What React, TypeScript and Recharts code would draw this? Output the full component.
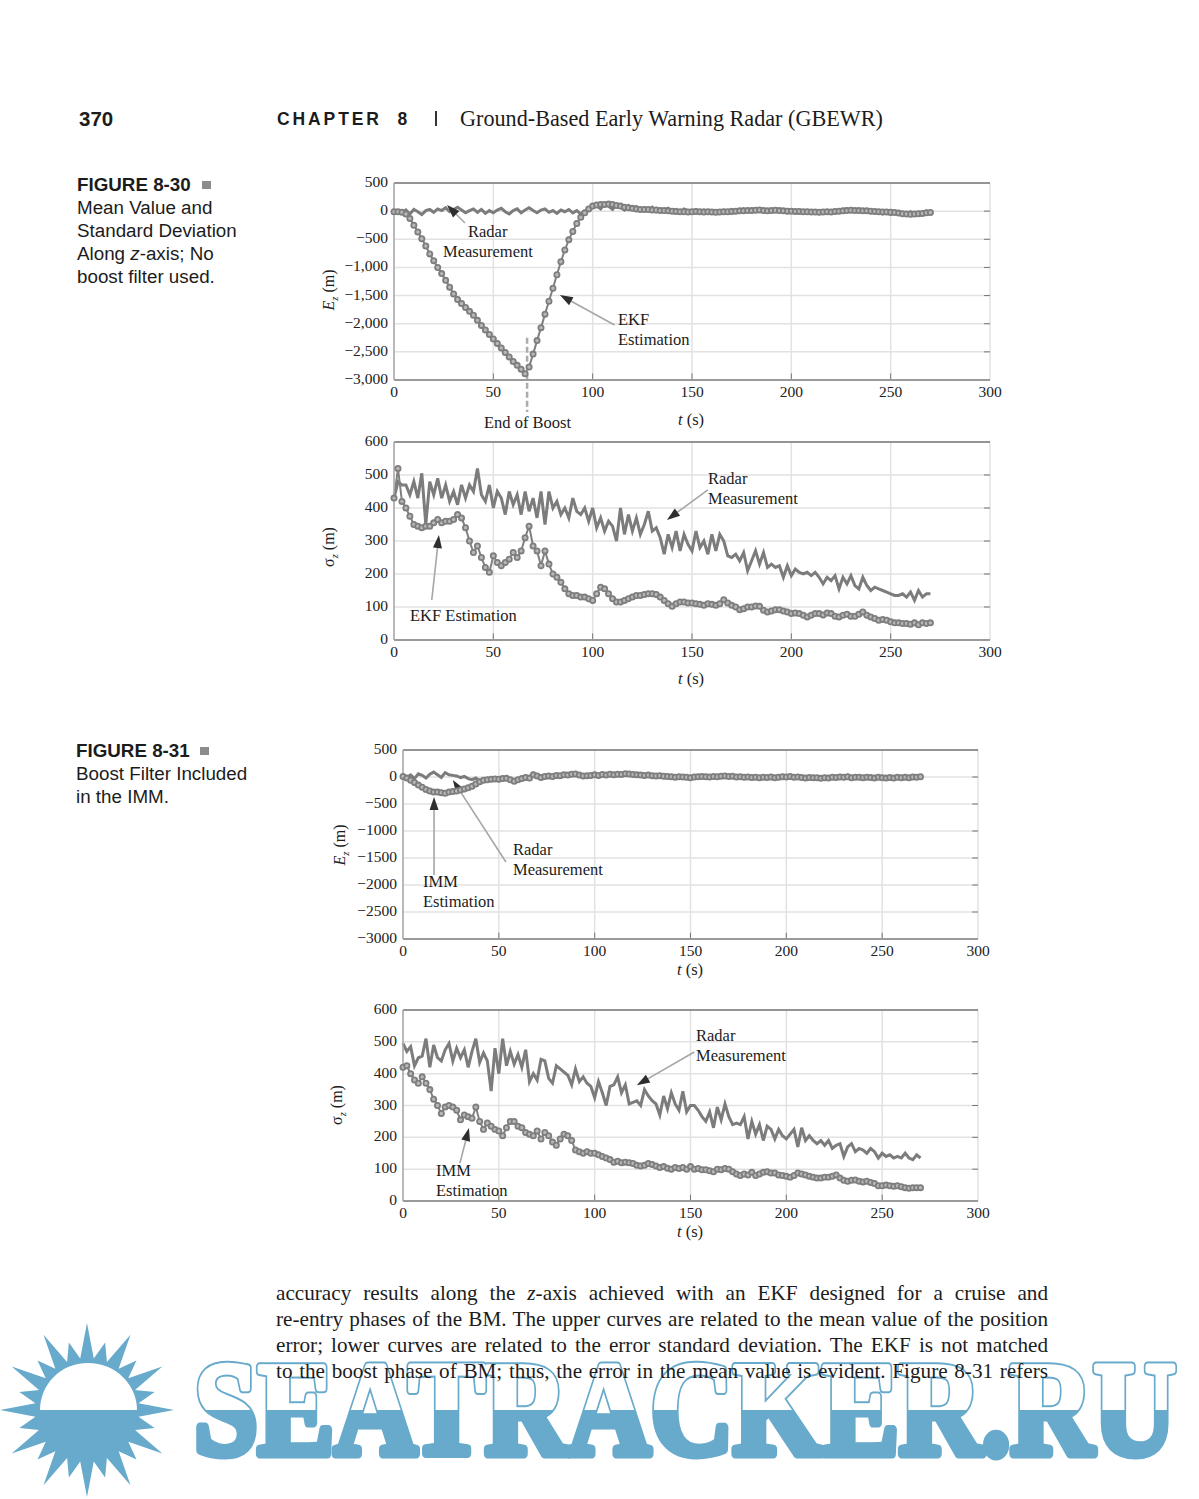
import React from "react";
import { LineChart, Line, XAxis, YAxis, CartesianGrid, ReferenceLine } from "recharts";

const serif = "'Liberation Serif', serif";
const sans = "'Liberation Sans', sans-serif";

// samples every 2 s, 0 to 270
const times = [
  0, 2, 4, 6, 8, 10, 12, 14, 16, 18, 20, 22, 24, 26, 28, 30, 32, 34, 36, 38, 40, 42, 44, 46, 48, 50, 52, 54, 56, 58,
  60, 62, 64, 66, 68, 70, 72, 74, 76, 78, 80, 82, 84, 86, 88, 90, 92, 94, 96, 98, 100, 102, 104, 106, 108, 110, 112,
  114, 116, 118, 120, 122, 124, 126, 128, 130, 132, 134, 136, 138, 140, 142, 144, 146, 148, 150, 152, 154, 156, 158,
  160, 162, 164, 166, 168, 170, 172, 174, 176, 178, 180, 182, 184, 186, 188, 190, 192, 194, 196, 198, 200, 202, 204,
  206, 208, 210, 212, 214, 216, 218, 220, 222, 224, 226, 228, 230, 232, 234, 236, 238, 240, 242, 244, 246, 248, 250,
  252, 254, 256, 258, 260, 262, 264, 266, 268, 270,
];
const xTicks = [0, 50, 100, 150, 200, 250, 300];
const ezTicks = [500, 0, -500, -1000, -1500, -2000, -2500, -3000];
const sigmaTicks = [600, 500, 400, 300, 200, 100, 0];

const radarEz30 = [
  -20, 10, -30, 20, -50, 30, -10, -60, 10, 30, -20, 40, 10, 60, -10, 30, 70, 20, -30, 10,
  40, -20, 30, -40, 10, -30, 20, 50, -10, -50, 10, 40, -30, 20, 60, 10, -30, 20, 40, -20,
  10, -40, 20, -10, 30, -30, 10, -50, -10, 20, 60, 100, 40, 130, 90, 30, 120, 70, 20, 100,
  40, 80, 10, 60, 30, 70, -10, 40, 20, 50, 0, 30, -20, 40, 10, -10, 30, -20, 20, -10,
  -20, 10, -30, 20, 0, 30, -10, 20, 40, 0, 30, 10, 40, -10, 30, 0, 40, 10, -20, 30,
  10, -20, 20, 0, -30, 10, -10, -40, 0, -30, 10, 20, -10, 30, 40, 0, 30, -10, 20, 0,
  -30, 10, -20, -50, -30, -60, -20, -50, -30, -60, -10, -40, -20, -30, 0, -10,
];
const ekfEz30 = [
  -10, -10, -20, -50, -130, -250, -370, -490, -620, -760, -880, -1000, -1110, -1230, -1350, -1470, -1570, -1640, -1710, -1780,
  -1850, -1940, -2030, -2110, -2190, -2270, -2350, -2430, -2510, -2590, -2670, -2740, -2810, -2890, -2770, -2540, -2300, -2070, -1830, -1600,
  -1370, -1130, -900, -690, -510, -360, -220, -110, -30, 40, 90, 110, 120, 120, 125, 120, 100, 90, 70, 60,
  50, 40, 30, 30, 30, 20, 20, 10, 10, 5, 0, -5, -10, -10, -15, -10, -5, -10, -15, -10,
  -15, -20, -15, -10, -10, -5, 0, 5, 5, 10, 10, 15, 20, 10, 5, 10, 15, 10, 5, 0,
  0, -5, -5, -10, -10, -15, -15, -20, -15, -10, -15, -5, 0, 5, 10, 15, 10, 10, 5, 5,
  0, -5, -10, -15, -15, -20, -25, -35, -45, -50, -55, -50, -45, -40, -30, -25,
];
const radarSigma30 = [
  430, 480, 470, 470, 440, 480, 430, 505, 350, 480, 440, 490, 430, 470, 420, 450, 410, 470, 430, 470,
  450, 520, 440, 420, 470, 400, 450, 430, 380, 450, 410, 440, 380, 450, 390, 430, 370, 450, 350, 450,
  400, 420, 380, 400, 370, 430, 390, 380, 400, 360, 400, 340, 370, 330, 360, 345, 300, 400, 320, 380,
  330, 370, 320, 350, 390, 330, 340, 310, 260, 320, 280, 330, 270, 320, 290, 270, 330, 280, 300, 260,
  320, 270, 320, 300, 255, 250, 260, 240, 265, 210, 240, 270, 230, 265, 220, 230, 220, 225, 190, 225,
  195, 215, 205, 200, 205, 195, 205, 190, 170, 190, 180, 195, 155, 190, 170, 195, 165, 155, 190, 165,
  150, 160, 155, 150, 145, 140, 135, 135, 140, 130, 145, 120, 150, 130, 140, 140,
];
const ekfSigma30 = [
  430, 520, 420, 400, 375, 350, 345, 340, 345, 345, 355, 365, 355, 360, 360, 365, 380, 370, 340, 300,
  265, 285, 250, 220, 205, 255, 235, 225, 235, 245, 265, 250, 270, 310, 345, 285, 270, 225, 270, 230,
  200, 190, 175, 155, 140, 135, 135, 130, 130, 125, 120, 140, 160, 155, 140, 125, 115, 115, 120, 125,
  130, 135, 135, 138, 140, 140, 138, 130, 120, 110, 102, 110, 115, 115, 112, 112, 110, 108, 105, 110,
  108, 105, 110, 122, 112, 105, 100, 92, 95, 100, 100, 103, 102, 90, 85, 88, 92, 92, 88, 85,
  80, 82, 80, 75, 70, 75, 80, 80, 76, 82, 80, 72, 70, 75, 78, 72, 72, 78, 85, 75,
  70, 65, 60, 62, 60, 55, 52, 52, 50, 50, 48, 52, 46, 52, 50, 52,
];
const radarEz31 = [
  20, -10, 40, -30, 60, 30, -20, 50, 90, 40, -10, 80, 40, 30, 20, -10, 10, -30, -50, -20,
  -70, -50, -30, -50, -20, -40, -30, -10, -60, -70, -40, -20, 20, -40, 70, 40, -20, 10, 30, 0,
  40, 20, 50, 30, 60, 70, 40, -10, 30, 20, 50, 10, 40, 30, 60, 20, 50, 30, 70, 60,
  40, 50, 30, 20, 40, 30, 10, 30, 20, -10, 10, -20, 20, 0, -10, -30, 10, 0, 20, 10,
  -10, 20, -5, 15, 30, 5, 20, -15, 10, -10, 5, -20, -5, -30, 0, -15, 10, -25, 0, 15,
  -5, 20, -10, 5, -20, -30, -5, -25, -10, -35, -15, -30, 0, -20, 10, -10, 15, -25, -10, -5,
  -20, 5, -15, -25, 0, -20, -30, -10, -25, 0, -15, 5, -20, 10, -10, 15,
];
const immEz31 = [
  10, -20, -60, -100, -150, -190, -230, -260, -280, -280, -290, -300, -280, -270, -260, -240, -220, -200, -170, -130,
  -90, -60, -50, -40, -35, -40, -30, -25, -50, -80, -50, -30, -10, -20, 40, 20, -10, 10, 20, 10,
  30, 25, 40, 35, 50, 55, 35, 20, 25, 30, 40, 30, 45, 35, 50, 40, 50, 45, 60, 55,
  45, 40, 35, 30, 35, 25, 20, 25, 15, 10, 5, -5, 5, 0, -5, -15, 0, 5, 10, 5,
  0, 10, 5, 15, 20, 10, 15, 0, 5, -5, 0, -10, -5, -15, -5, -10, 0, -15, -5, 5,
  0, 10, -5, 0, -10, -20, -10, -15, -15, -25, -15, -20, -5, -10, 0, -5, 5, -15, -5, -5,
  -15, -5, -10, -20, -5, -15, -20, -10, -20, -5, -15, -5, -15, 0, -5, 5,
];
const radarSigma31 = [
  495, 470, 485, 425, 450, 455, 510, 420, 490, 450, 440, 475, 495, 440, 480, 450, 475, 420, 470, 510,
  435, 465, 440, 345, 480, 400, 510, 425, 470, 430, 460, 420, 475, 375, 400, 380, 445, 440, 385, 370,
  425, 415, 405, 395, 365, 415, 375, 390, 370, 360, 325, 375, 340, 300, 360, 365, 390, 340, 365, 305,
  310, 315, 300, 350, 330, 315, 305, 270, 330, 290, 340, 305, 285, 345, 280, 300, 300, 285, 265, 250,
  280, 230, 295, 255, 305, 265, 240, 245, 240, 265, 195, 250, 210, 240, 190, 235, 225, 195, 225, 205,
  195, 210, 225, 170, 230, 190, 205, 190, 180, 190, 175, 190, 165, 175, 180, 140, 170, 180, 155, 165,
  160, 150, 165, 155, 135, 150, 140, 145, 135, 140, 135, 150, 135, 130, 145, 135,
];
const immSigma31 = [
  420, 425, 400, 380, 370, 390, 370, 350, 320, 300, 275, 295, 300, 295, 285, 255, 270, 265, 260, 295,
  250, 225, 245, 235, 225, 220, 205, 230, 250, 250, 235, 230, 215, 210, 205, 220, 195, 215, 205, 185,
  175, 195, 210, 205, 190, 160, 155, 150, 155, 150, 150, 145, 140, 135, 130, 122, 125, 120, 122, 120,
  118, 112, 110, 112, 118, 115, 110, 105, 108, 103, 100, 105, 102, 105, 100, 108, 100, 102, 98, 98,
  95, 92, 100, 98, 102, 100, 92, 85, 80, 85, 82, 90, 80, 85, 90, 92, 88, 88, 82, 80,
  78, 75, 80, 88, 85, 82, 78, 75, 72, 72, 75, 75, 78, 82, 72, 65, 62, 65, 66, 62,
  60, 62, 58, 55, 48, 48, 50, 48, 46, 48, 45, 42, 40, 42, 42, 42,
];

type Arrow = { from: [number, number]; to: [number, number] };

// arrows in data units: tail to head
const arrowsEz30: Arrow[] = [
  { from: [35.7, -211], to: [26.7, 109] },
  { from: [111, -2023], to: [83.5, -1490] },
];
const arrowsSigma30: Arrow[] = [
  { from: [158, 455], to: [137.4, 364] },
  { from: [19, 121], to: [22.6, 318] },
];
const arrowsEz31: Arrow[] = [
  { from: [16.2, -1815], to: [16.2, -370] },
  { from: [53.7, -1574], to: [26, -56] },
];
const arrowsSigma31: Arrow[] = [
  { from: [152, 468], to: [122, 364] },
  { from: [29.7, 119], to: [34.4, 229] },
];

const bodyLines = [
  <>accuracy results along the <i>z</i>-axis achieved with an EKF designed for a cruise and</>,
  <>re-entry phases of the BM. The upper curves are related to the mean value of the position</>,
  <>error; lower curves are related to the error standard deviation. The EKF is not matched</>,
  <>to the boost phase of BM; thus, the error in the mean value is evident. Figure 8-31 refers</>,
];

function ArrowShape(props: any) {
  const { x1, y1, x2, y2 } = props;
  const a = Math.atan2(y2 - y1, x2 - x1);
  const l = 13;
  const w = 4.5;
  const bx = x2 - l * Math.cos(a);
  const by = y2 - l * Math.sin(a);
  const nx = -Math.sin(a) * w;
  const ny = Math.cos(a) * w;
  return (
    <g>
      <line x1={x1} y1={y1} x2={bx} y2={by} stroke="#a6a6a6" strokeWidth={1.6} />
      <polygon points={`${x2},${y2} ${bx + nx},${by + ny} ${bx - nx},${by - ny}`} fill="#2e2e2e" />
    </g>
  );
}

type PanelProps = {
  left: number;
  top: number;
  plotLeft: number;
  plotRight: number;
  plotTop: number;
  plotBottom: number;
  radar: number[];
  estimate: number[];
  yTicks: number[];
  yFormat: (v: number) => string;
  arrows: Arrow[];
  children?: React.ReactNode;
};

function Panel({ left, top, plotLeft, plotRight, plotTop, plotBottom, radar, estimate, yTicks, yFormat, arrows, children }: PanelProps) {
  const rows = times.map((t, i) => ({ t, radar: radar[i], estimate: estimate[i] }));
  const yMax = yTicks[0];
  const yMin = yTicks[yTicks.length - 1];
  const yStep = (yMax - yMin) / 60;
  return (
    <div style={{ position: "absolute", left, top }}>
      <LineChart
        width={plotRight + 15 - left}
        height={plotBottom + 40 - top}
        data={rows}
        margin={{ top: plotTop - top, right: 15, bottom: 0, left: 0 }}
      >
        <CartesianGrid stroke="#e2e2e2" strokeWidth={1.5} />
        <XAxis
          dataKey="t"
          type="number"
          domain={[0, 300]}
          ticks={xTicks}
          height={40}
          interval={0}
          tickSize={0}
          tickMargin={6}
          axisLine={{ stroke: "#9a9a9a", strokeWidth: 2 }}
          tick={{ fontFamily: serif, fontSize: 15.5, fill: "#222" }}
        />
        <YAxis
          type="number"
          domain={[yMin, yMax]}
          ticks={yTicks}
          width={plotLeft - left}
          interval={0}
          tickSize={0}
          tickMargin={6}
          tickFormatter={yFormat}
          axisLine={{ stroke: "#a8a8a8", strokeWidth: 1.5 }}
          tick={{ fontFamily: serif, fontSize: 15.5, fill: "#222", dy: -1.5 }}
        />
        <ReferenceLine y={yMax} stroke="#777" strokeWidth={1.5} />
        {yTicks.slice(1, -1).map((v) => (
          <ReferenceLine key={v} segment={[{ x: 297, y: v }, { x: 300, y: v }]} stroke="#777" strokeWidth={1} />
        ))}
        {xTicks.slice(1, -1).map((v) => (
          <ReferenceLine key={v} segment={[{ x: v, y: yMin }, { x: v, y: yMin + yStep * 2 }]} stroke="#777" strokeWidth={1} />
        ))}
        <Line
          dataKey="radar"
          stroke="#7c7c7c"
          strokeWidth={3}
          dot={false}
          isAnimationActive={false}
        />
        <Line
          dataKey="estimate"
          stroke="#808080"
          strokeWidth={2}
          dot={{ r: 2.6, stroke: "#7e7e7e", strokeWidth: 1.8, fill: "#b8b8b8" }}
          isAnimationActive={false}
        />
        {arrows.map((a, i) => (
          <ReferenceLine
            key={i}
            ifOverflow="visible"
            segment={[{ x: a.from[0], y: a.from[1] }, { x: a.to[0], y: a.to[1] }]}
            shape={ArrowShape}
          />
        ))}
        {children}
      </LineChart>
    </div>
  );
}

function Txt({ x, y, size = 16.5, font = serif, style, children }: any) {
  return (
    <div
      style={{
        position: "absolute",
        left: x,
        top: y,
        transform: "translateY(-50%)",
        whiteSpace: "nowrap",
        fontFamily: font,
        fontSize: size,
        lineHeight: 1,
        color: "#1c1c1c",
        ...style,
      }}
    >
      {children}
    </div>
  );
}

function AxisT({ x, y }: { x: number; y: number }) {
  return (
    <Txt x={x} y={y} style={{ transform: "translate(-50%,-50%)" }}>
      <i>t</i> (s)
    </Txt>
  );
}

function AxisY({ x, y, sigma }: { x: number; y: number; sigma?: boolean }) {
  return (
    <div
      style={{
        position: "absolute",
        left: x,
        top: y,
        transform: "translate(-50%,-50%) rotate(-90deg)",
        whiteSpace: "nowrap",
        fontFamily: serif,
        fontSize: 16,
        color: "#1c1c1c",
      }}
    >
      {sigma ? "σ" : <i>E</i>}
      <sub style={{ fontSize: 10.5 }}><i>z</i></sub> (m)
    </div>
  );
}

function sunPoints() {
  const cx = 87;
  const cy = 1410;
  const n = 24;
  const pts: string[] = [];
  for (let i = 0; i < n; i++) {
    const a = (i / n) * Math.PI * 2 + Math.PI / 2;
    const outer = i % 2 === 0 ? 87 : 70;
    pts.push(`${cx + outer * Math.cos(a)},${cy + outer * Math.sin(a)}`);
    const b = ((i + 0.5) / n) * Math.PI * 2 + Math.PI / 2;
    pts.push(`${cx + 52 * Math.cos(b)},${cy + 52 * Math.sin(b)}`);
  }
  return pts.join(" ");
}

function Watermark() {
  return (
    <svg width={1199} height={1499} style={{ position: "absolute", left: 0, top: 0 }}>
      <defs>
        <clipPath id="wmTop">
          <rect x={0} y={1300} width={1199} height={110} />
        </clipPath>
        <text
          id="wmText"
          x={194}
          y={1454}
          textLength={982}
          lengthAdjust="spacingAndGlyphs"
          fontFamily={serif}
          fontWeight="bold"
          fontSize={134}
        >
          SEATRACKER.RU
        </text>
      </defs>
      <polygon points={sunPoints()} fill="#68aacb" />
      <path d="M40 1410 C40 1385 60 1363 88 1363 C116 1363 137 1385 137 1410 Z" fill="#fff" />
      <use href="#wmText" fill="#68aacb" stroke="#68aacb" strokeWidth={9} strokeLinejoin="round" />
      <g clipPath="url(#wmTop)">
        <use href="#wmText" fill="#fff" stroke="#fff" strokeWidth={5} strokeLinejoin="round" />
      </g>
    </svg>
  );
}

const fmtComma = (v: number) => (v < 0 ? "\u2212" : "") + Math.abs(v).toLocaleString("en-US");
const fmtPlain = (v: number) => (v < 0 ? "\u2212" : "") + Math.abs(v);

export default function App() {
  return (
    <div style={{ position: "absolute", left: 0, top: 0, width: 1199, height: 1499, overflow: "hidden", background: "#fff" }}>
      <Watermark />

      <Txt x={79} y={119} size={20.5} font={sans} style={{ fontWeight: "bold" }}>370</Txt>
      <Txt x={277} y={120} size={17.5} font={sans} style={{ letterSpacing: 2.9, fontWeight: "bold" }}>CHAPTER&nbsp;&nbsp;8</Txt>
      <div style={{ position: "absolute", left: 435, top: 111, width: 2, height: 15, background: "#333" }} />
      <Txt x={460} y={119} size={22.2}>Ground-Based Early Warning Radar (GBEWR)</Txt>

      <Txt x={77} y={185} size={18.8} font={sans} style={{ fontWeight: "bold" }}>FIGURE 8-30</Txt>
      <div style={{ position: "absolute", left: 202, top: 181, width: 9, height: 8, background: "#8c8c8c" }} />
      <Txt x={77} y={208} size={18.8} font={sans}>Mean Value and</Txt>
      <Txt x={77} y={231} size={18.8} font={sans}>Standard Deviation</Txt>
      <Txt x={77} y={254} size={18.8} font={sans}>Along <i>z</i>-axis; No</Txt>
      <Txt x={77} y={277} size={18.8} font={sans}>boost filter used.</Txt>

      <Txt x={76} y={751} size={18.8} font={sans} style={{ fontWeight: "bold" }}>FIGURE 8-31</Txt>
      <div style={{ position: "absolute", left: 200, top: 747, width: 9, height: 8, background: "#8c8c8c" }} />
      <Txt x={76} y={774} size={18.8} font={sans}>Boost Filter Included</Txt>
      <Txt x={76} y={797} size={18.8} font={sans}>in the IMM.</Txt>

      <Panel left={320} top={168} plotLeft={394} plotRight={990} plotTop={183} plotBottom={380}
        radar={radarEz30} estimate={ekfEz30} yTicks={ezTicks} yFormat={fmtComma} arrows={arrowsEz30}>
        <ReferenceLine
          ifOverflow="visible"
          segment={[{ x: 67, y: -2250 }, { x: 67, y: -3570 }]}
          stroke="#acacac"
          strokeWidth={2.5}
          strokeDasharray="6 3"
        />
      </Panel>
      <Panel left={320} top={427} plotLeft={394} plotRight={990} plotTop={442} plotBottom={640}
        radar={radarSigma30} estimate={ekfSigma30} yTicks={sigmaTicks} yFormat={fmtPlain} arrows={arrowsSigma30} />
      <Panel left={320} top={735} plotLeft={403} plotRight={978} plotTop={750} plotBottom={939}
        radar={radarEz31} estimate={immEz31} yTicks={ezTicks} yFormat={fmtPlain} arrows={arrowsEz31} />
      <Panel left={320} top={995} plotLeft={403} plotRight={978} plotTop={1010} plotBottom={1201}
        radar={radarSigma31} estimate={immSigma31} yTicks={sigmaTicks} yFormat={fmtPlain} arrows={arrowsSigma31} />

      <AxisY x={330} y={290} />
      <AxisT x={691} y={420} />
      <Txt x={484} y={423}>End of Boost</Txt>
      <Txt x={468} y={232}>Radar</Txt>
      <Txt x={443} y={252}>Measurement</Txt>
      <Txt x={618} y={320}>EKF</Txt>
      <Txt x={618} y={340}>Estimation</Txt>

      <AxisY x={330} y={547} sigma />
      <AxisT x={691} y={679} />
      <Txt x={708} y={479}>Radar</Txt>
      <Txt x={708} y={499}>Measurement</Txt>
      <Txt x={410} y={616}>EKF Estimation</Txt>

      <AxisY x={341} y={845} />
      <AxisT x={690} y={970} />
      <Txt x={513} y={850}>Radar</Txt>
      <Txt x={513} y={870}>Measurement</Txt>
      <Txt x={423} y={882}>IMM</Txt>
      <Txt x={423} y={902}>Estimation</Txt>

      <AxisY x={338} y={1105} sigma />
      <AxisT x={690} y={1232} />
      <Txt x={696} y={1036}>Radar</Txt>
      <Txt x={696} y={1056}>Measurement</Txt>
      <Txt x={436} y={1171}>IMM</Txt>
      <Txt x={436} y={1191}>Estimation</Txt>

      {bodyLines.map((line, i) => (
        <div
          key={i}
          style={{
            position: "absolute",
            left: 276,
            top: 1294 + i * 26,
            width: 772,
            transform: "translateY(-50%)",
            fontFamily: serif,
            fontSize: 21.2,
            lineHeight: 1,
            whiteSpace: "nowrap",
            color: "#1c1c1c",
            textAlign: "justify",
            textAlignLast: "justify",
          }}
        >
          {line}
        </div>
      ))}
    </div>
  );
}
